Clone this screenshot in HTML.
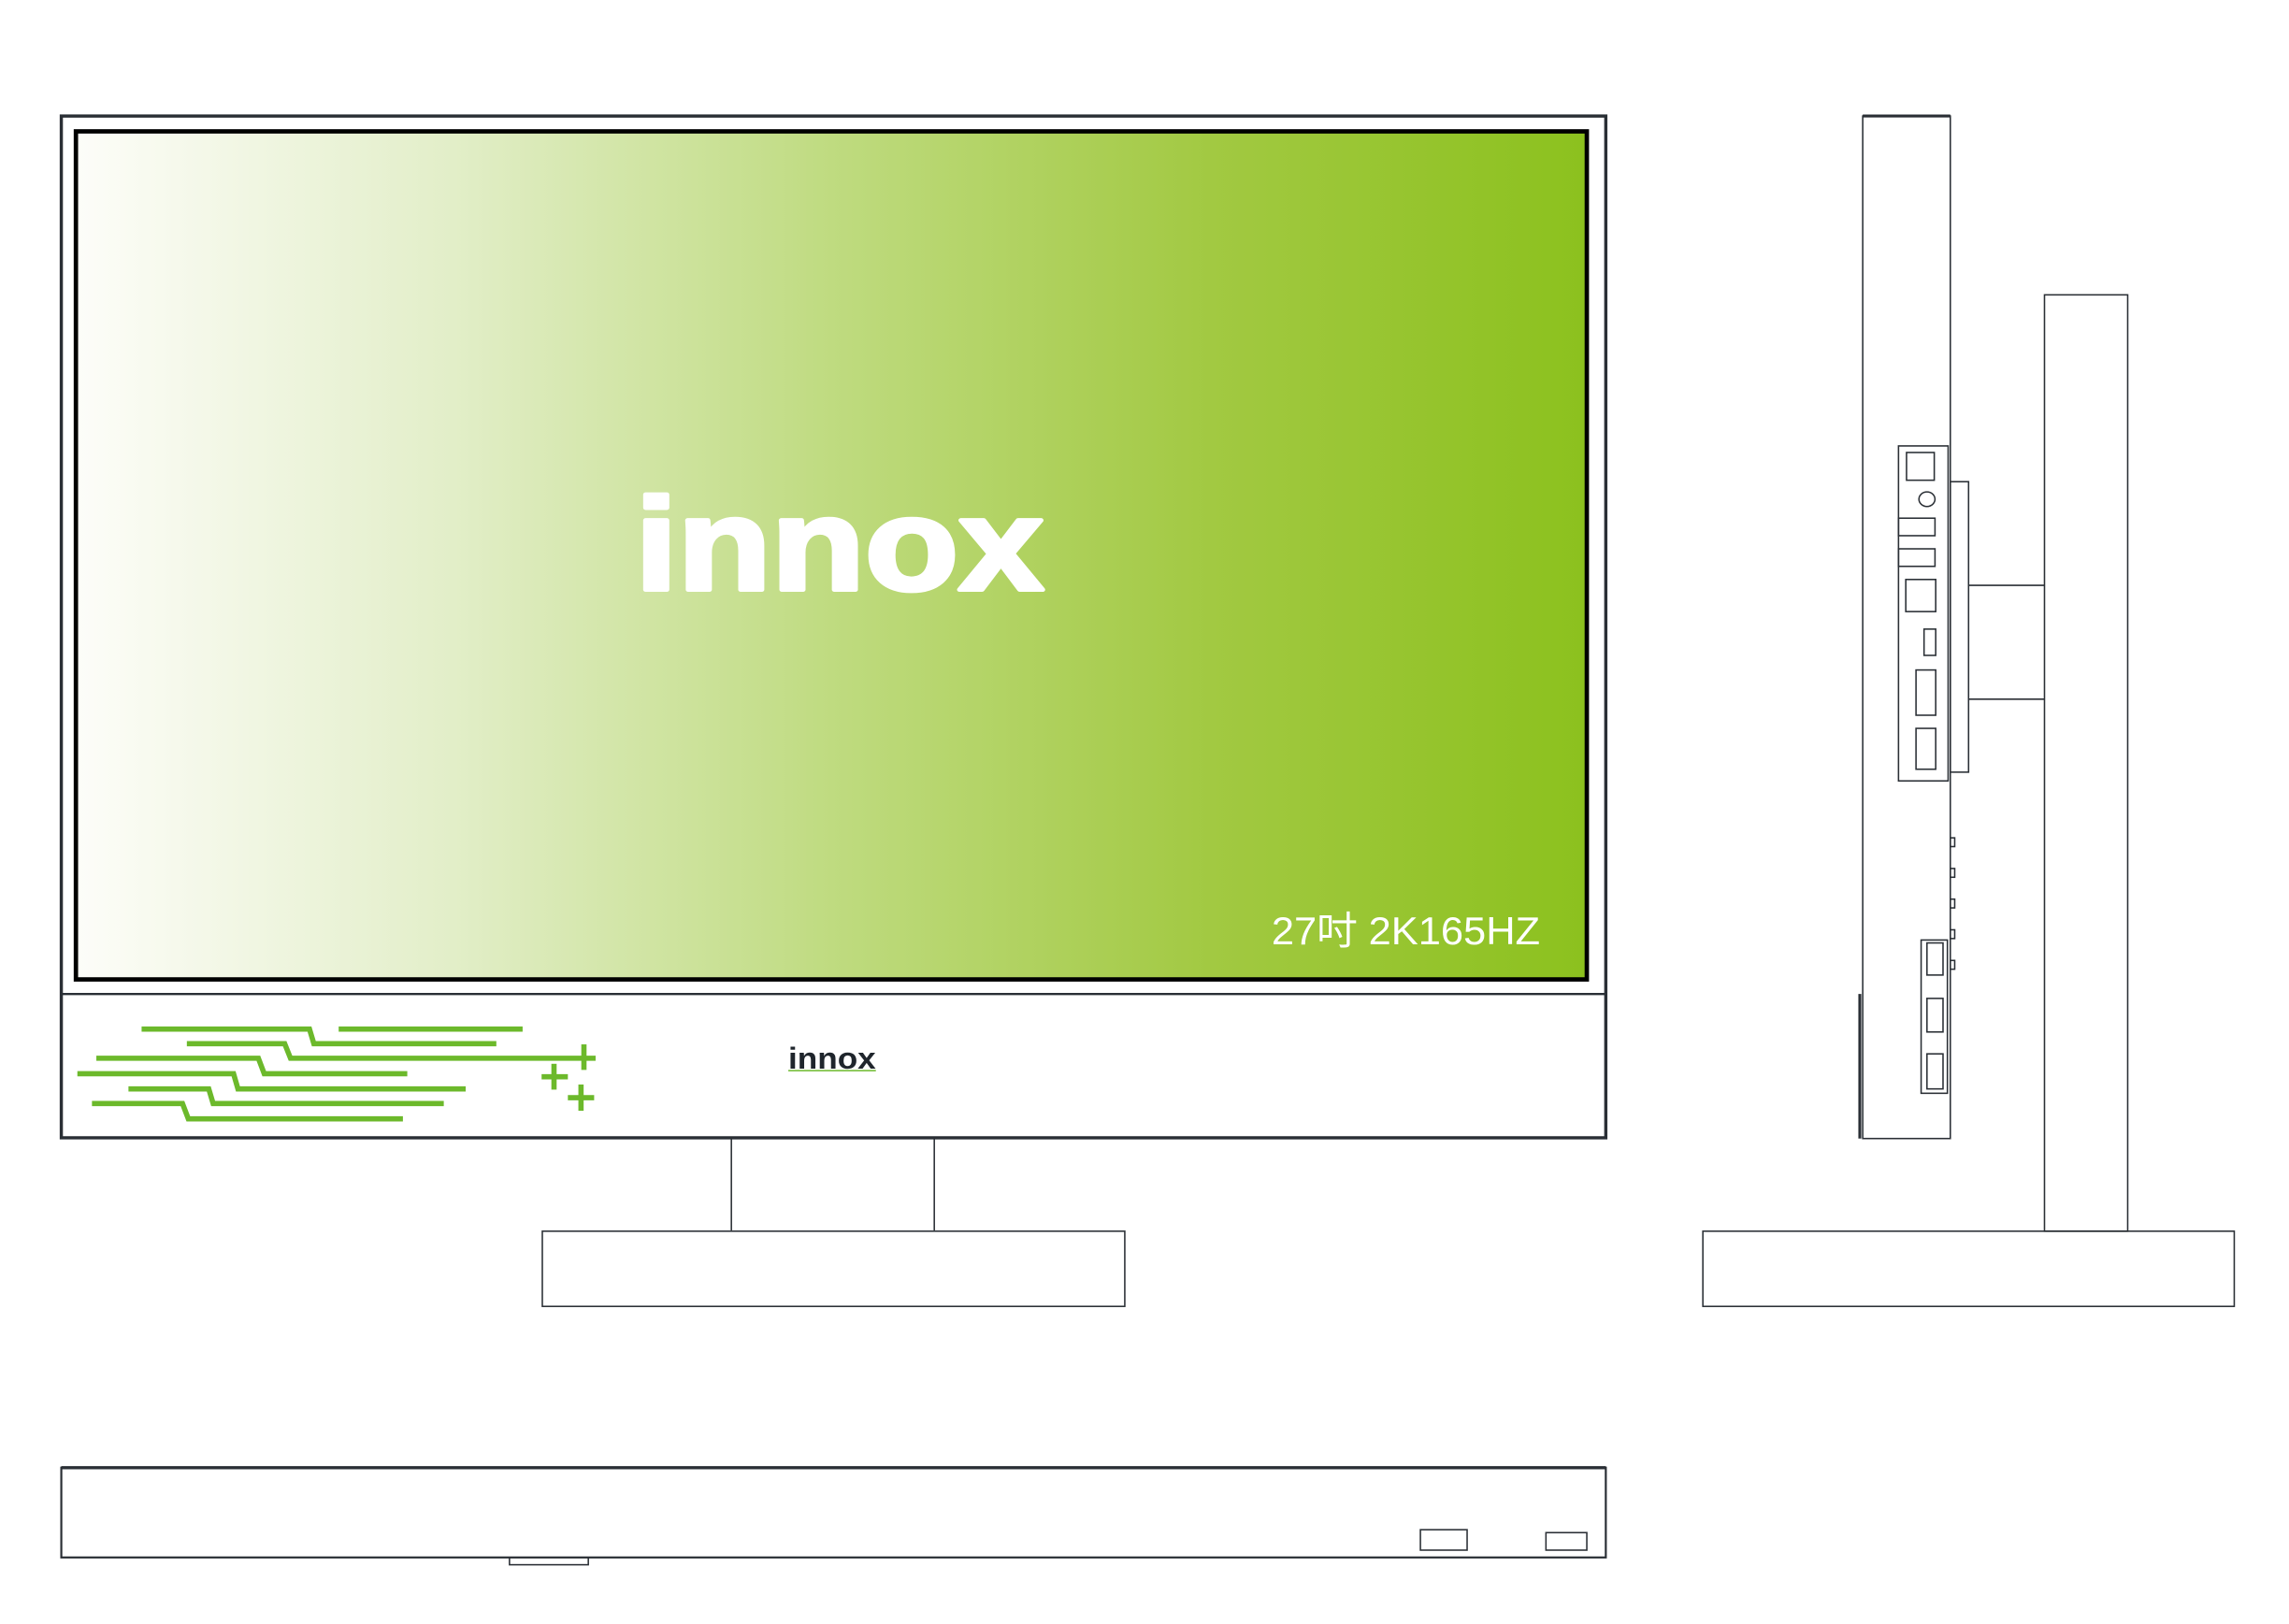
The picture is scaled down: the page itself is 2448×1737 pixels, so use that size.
<!DOCTYPE html>
<html><head><meta charset="utf-8"><style>
html,body{margin:0;padding:0;background:#fff;}
svg{display:block;}
</style></head><body>
<svg width="2448" height="1737" viewBox="0 0 1568 1112.6" preserveAspectRatio="none" xmlns="http://www.w3.org/2000/svg">
<defs>
<linearGradient id="g" x1="0" x2="1" y1="0" y2="0">
<stop offset="0" stop-color="#fdfdf9"/>
<stop offset="0.25" stop-color="#e2eec8"/>
<stop offset="0.5" stop-color="#bfdb80"/>
<stop offset="0.75" stop-color="#a2c942"/>
<stop offset="1" stop-color="#8cc11e"/>
</linearGradient>
</defs>
<g fill="none" stroke="#2a2f35" stroke-width="1">
<!-- front -->
<rect x="42" y="79.5" width="1058" height="700" stroke-width="2.2"/>
<line x1="42" y1="681" x2="1100" y2="681" stroke-width="1.5"/>
<rect x="52" y="90" width="1035" height="581" fill="url(#g)" stroke="#000" stroke-width="3"/>
<line x1="501" y1="780" x2="501" y2="843"/>
<line x1="640" y1="780" x2="640" y2="843"/>
<rect x="371.5" y="843.5" width="399" height="51.5"/>
<!-- bottom view -->
<rect x="42" y="1005.5" width="1058" height="61.5" stroke-width="1.4"/>
<line x1="42" y1="1005.5" x2="1100" y2="1005.5" stroke-width="2.2"/>
<rect x="349" y="1067" width="54" height="5"/>
<rect x="973" y="1048" width="32" height="14"/>
<rect x="1059" y="1050" width="28" height="12"/>
<!-- side view -->
<rect x="1276" y="79.5" width="60" height="700.5"/>
<line x1="1276" y1="79.5" x2="1336" y2="79.5" stroke-width="2"/>
<line x1="1274" y1="681" x2="1274" y2="780" stroke-width="2"/>
<rect x="1400.5" y="202" width="57" height="641.5"/>
<rect x="1166.5" y="843.5" width="364" height="51.5"/>
<rect x="1300.5" y="305.5" width="34" height="229.5"/>
<rect x="1336" y="330" width="12.5" height="199"/>
<line x1="1348.5" y1="401" x2="1400.5" y2="401"/>
<line x1="1348.5" y1="479" x2="1400.5" y2="479"/>
<rect x="1306" y="310" width="19" height="19"/>
<ellipse cx="1320" cy="342" rx="5.5" ry="5"/>
<rect x="1300.5" y="355" width="25" height="12"/>
<rect x="1300.5" y="376" width="25" height="12"/>
<rect x="1305.5" y="397" width="20.5" height="22"/>
<rect x="1318" y="431" width="8" height="18"/>
<rect x="1312.5" y="459" width="13.5" height="31"/>
<rect x="1312.5" y="499" width="13.5" height="28"/>
<rect x="1336" y="574" width="3" height="6"/>
<rect x="1336" y="595" width="3" height="6"/>
<rect x="1336" y="616" width="3" height="6"/>
<rect x="1336" y="637" width="3" height="6"/>
<rect x="1336" y="658" width="3" height="6"/>
<rect x="1316" y="644" width="18" height="105"/>
<rect x="1320" y="646" width="11" height="22"/>
<rect x="1320" y="684" width="11" height="23"/>
<rect x="1320" y="722" width="11" height="24"/>
</g>
<!-- green circuit -->
<g fill="none" stroke="#6cb92b" stroke-width="3.6">
<polyline points="97,705 212,705 215,715 340,715"/>
<polyline points="232,705 358,705"/>
<polyline points="128,715 195,715 199,725 408,725"/>
<polyline points="66,725 177,725 181,735.6 279,735.6"/>
<polyline points="53,735.6 160,735.6 163,746 319,746"/>
<polyline points="88,746 143,746 146,756 304,756"/>
<polyline points="63,756 125,756 129,766.5 276,766.5"/>
<line x1="400" y1="715.5" x2="400" y2="733"/>
<line x1="371" y1="737.7" x2="389" y2="737.7"/>
<line x1="379.5" y1="728.8" x2="379.5" y2="746.5"/>
<line x1="389" y1="752" x2="407" y2="752"/>
<line x1="398" y1="743" x2="398" y2="761"/>
</g>
<text x="435" y="404" font-family="Liberation Sans, sans-serif" font-weight="bold" font-size="90" fill="#fff" stroke="#fff" stroke-width="3" stroke-linejoin="round" textLength="280" lengthAdjust="spacingAndGlyphs">innox</text>
<text x="871" y="647" font-family="Liberation Sans, 'Noto Sans CJK SC', sans-serif" font-size="27" fill="#fff" textLength="184" lengthAdjust="spacingAndGlyphs">27吋 2K165HZ</text>
<text x="540" y="732" font-family="Liberation Sans, sans-serif" font-weight="bold" font-size="21" fill="#1f252c" textLength="60" lengthAdjust="spacingAndGlyphs">innox</text>
<line x1="540" y1="733.5" x2="600" y2="733.5" stroke="#6cb92b" stroke-width="1"/>
</svg>
</body></html>
